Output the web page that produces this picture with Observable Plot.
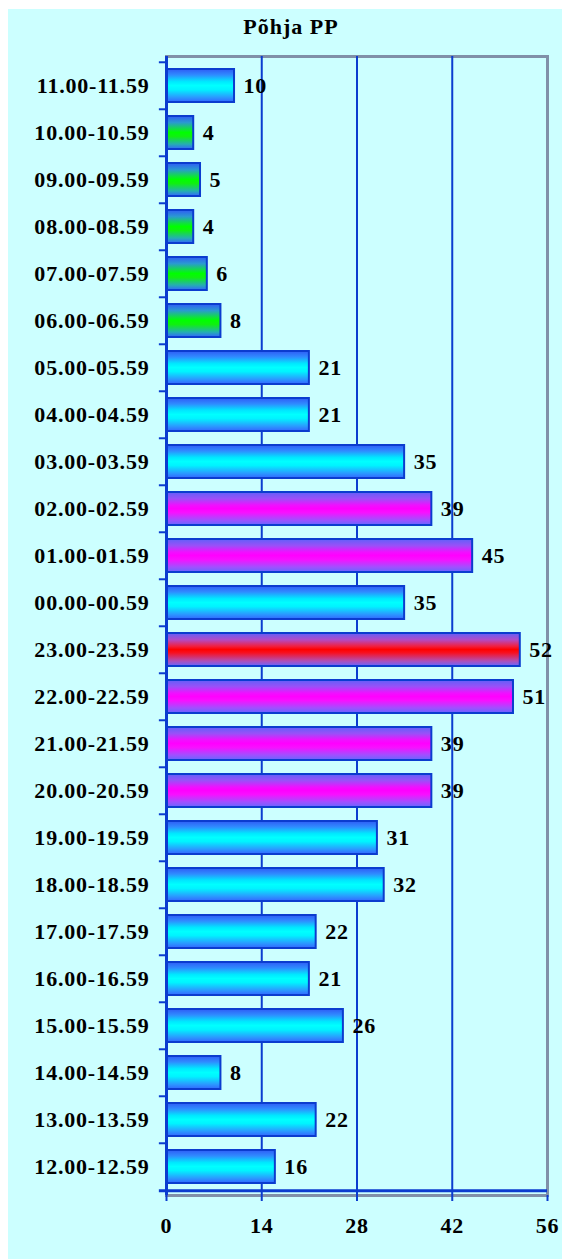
<!DOCTYPE html>
<html>
<head>
<meta charset="utf-8">
<script src="https://cdn.jsdelivr.net/npm/d3@7"></script>
<script src="https://cdn.jsdelivr.net/npm/@observablehq/plot@0.6"></script>
<style>
  html, body { margin: 0; padding: 0; background: #ffffff; }
  #wrap { position: relative; width: 562px; height: 1259px; overflow: hidden; }
  #bg { position: absolute; left: 8px; top: 9px; right: 0; bottom: 0; background: #CCFFFF; }
  #title { position: absolute; left: 20px; right: 0; top: 14px; text-align: center; letter-spacing: 1px;
           font-family: "Liberation Serif", "Times New Roman", serif; font-weight: bold; font-size: 22px; line-height: 26px; color: #000; }
  #chart { position: absolute; left: 0; top: 0; }
  #chart svg text { letter-spacing: 0.8px; }
</style>
</head>
<body>
<div id="wrap">
  <div id="bg"></div>
  <div id="chart"></div>
  <div id="title"></div>
</div>
<script>
const title = "Põhja PP";
const categories = ["11.00-11.59","10.00-10.59","09.00-09.59","08.00-08.59","07.00-07.59","06.00-06.59",
  "05.00-05.59","04.00-04.59","03.00-03.59","02.00-02.59","01.00-01.59","00.00-00.59",
  "23.00-23.59","22.00-22.59","21.00-21.59","20.00-20.59","19.00-19.59","18.00-18.59",
  "17.00-17.59","16.00-16.59","15.00-15.59","14.00-14.59","13.00-13.59","12.00-12.59"];
const values = [10,4,5,4,6,8,21,21,35,39,45,35,52,51,39,39,31,32,22,21,26,8,22,16];
const groups = ["base","low","low","low","low","low","base","base","base","high","high","base",
  "peak","high","high","high","base","base","base","base","base","base","base","base"];
const xTicks = [0,14,28,42,56];

document.getElementById("title").textContent = title;

const data = categories.map((c, i) => ({cat: c, value: values[i], group: groups[i]}));

const W = 562, H = 1259, MT = 56, MB = 64, ML = 166, MR = 15;
const step = (H - MT - MB) / categories.length;
const BLUE = "#0b3ccf";
const GRAY = "#8090a8";
const FONT = 22;

const gradients = {
  base: [[0,"#2f5cf5"],[0.18,"#2f8cff"],[0.38,"#00e8ff"],[0.5,"#00ffff"],[0.62,"#00f4ff"],[0.85,"#2a9cff"],[1,"#3366ff"]],
  low:  [[0,"#2f5cf5"],[0.2,"#2a9ad0"],[0.4,"#10e040"],[0.5,"#00ff00"],[0.62,"#10f010"],[0.85,"#25b0b0"],[1,"#3366ff"]],
  high: [[0,"#6060f8"],[0.2,"#9a50f8"],[0.4,"#f010ff"],[0.5,"#ff00ff"],[0.62,"#f810ff"],[0.85,"#a050ff"],[1,"#6666ff"]],
  peak: [[0,"#6060f8"],[0.2,"#b04cc8"],[0.4,"#f02040"],[0.5,"#ff0000"],[0.6,"#f81020"],[0.85,"#b050b8"],[1,"#6666ff"]]
};

function defs() {
  const d = d3.create("svg:defs");
  for (const [k, stops] of Object.entries(gradients)) {
    const g = d.append("linearGradient").attr("id", "grad-" + k)
      .attr("x1", 0).attr("y1", 0).attr("x2", 0).attr("y2", 1);
    for (const [o, c] of stops) g.append("stop").attr("offset", o).attr("stop-color", c);
  }
  return d.node();
}

const chart = Plot.plot({
  width: W, height: H,
  marginTop: MT, marginBottom: MB, marginLeft: ML, marginRight: MR,
  style: {background: "transparent", fontFamily: "'Liberation Serif', 'Times New Roman', serif", fontWeight: "bold", fontSize: FONT + "px", color: "#000"},
  x: {domain: [0, 56]},
  y: {domain: categories, paddingInner: 0.3, paddingOuter: 0.15},
  marks: [
    defs,
    Plot.frame({stroke: GRAY, strokeWidth: 3}),
    Plot.ruleX([14, 28, 42], {stroke: BLUE, strokeWidth: 2}),
    ...Object.keys(gradients).map(k => Plot.barX(data, {
      filter: d => d.group === k, x: "value", y: "cat",
      fill: `url(#grad-${k})`, stroke: BLUE, strokeWidth: 2
    })),
    Plot.ruleX([0], {stroke: BLUE, strokeWidth: 3}),
    Plot.ruleY(categories, {y: d => d, x1: -1.05, x2: 0, dy: -step / 2, stroke: BLUE, strokeWidth: 2}),
    Plot.ruleY([categories[categories.length - 1]], {y: d => d, x1: -1.05, x2: 56, dy: step / 2, stroke: BLUE, strokeWidth: 3}),
    Plot.text(data, {x: "value", y: "cat", text: d => String(d.value), dx: 9, textAnchor: "start", fontWeight: "bold", fontSize: FONT, fill: "#000"}),
    Plot.axisY({tickSize: 0, tickPadding: 17, fontSize: FONT, fontWeight: "bold", label: null}),
    Plot.axisX({ticks: xTicks, tickSize: 6, tickPadding: 16, stroke: BLUE, strokeWidth: 2, fontSize: FONT, fontWeight: "bold", label: null, fill: "#000"})
  ]
});
document.getElementById("chart").appendChild(chart);
</script>
</body>
</html>
